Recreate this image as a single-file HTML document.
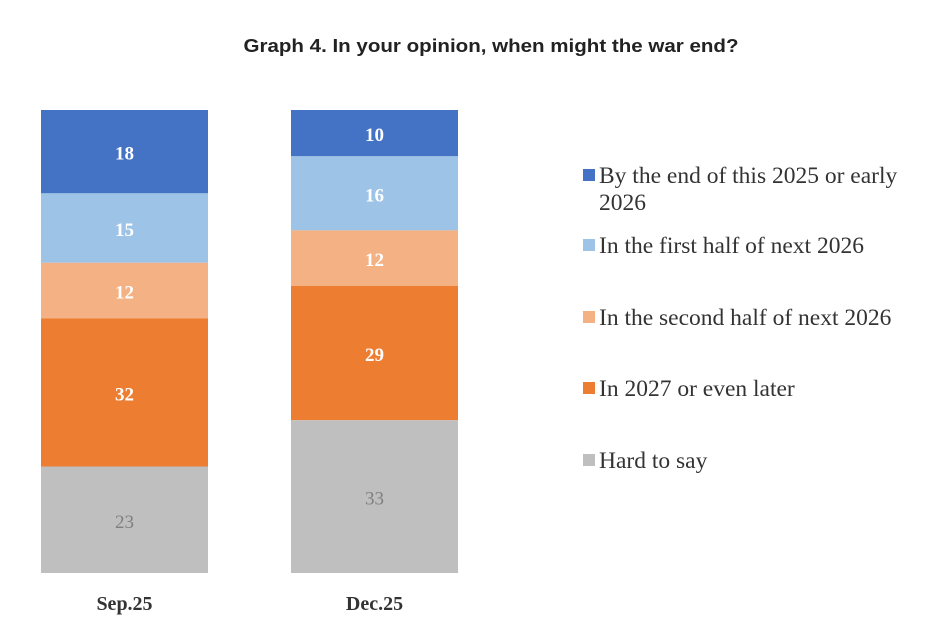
<!DOCTYPE html>
<html><head><meta charset="utf-8"><style>
body{margin:0;background:#fff;width:951px;height:638px;overflow:hidden}
svg text{font-family:"Liberation Serif",serif}
</style></head><body>
<svg id="chart" width="951" height="638">
<text x="491" y="52" text-anchor="middle" textLength="495" lengthAdjust="spacingAndGlyphs" style="font-family:'Liberation Sans',sans-serif;font-weight:bold;font-size:18px" fill="#222">Graph 4. In your opinion, when might the war end?</text>
<g id="bars"></g><g id="legend"></g>
</svg>
<script>
const categories=["Sep.25","Dec.25"];
const seriesNames=["By the end of this 2025 or early 2026","In the first half of next 2026","In the second half of next 2026","In 2027 or even later","Hard to say"];
const s1=[18,10];
const s2=[15,16];
const s3=[12,12];
const s4=[32,29];
const s5=[23,33];
const series=[s1,s2,s3,s4,s5];
const colors=["#4472C4","#9DC3E6","#F4B183","#ED7D31","#BFBFBF"];
const NS="http://www.w3.org/2000/svg";
const top0=110,bottom0=573,barW=167;
const xPos=i=>41+i*250;
const yScale=v=>bottom0-v*(bottom0-top0)/100;
const g=document.getElementById('bars');
categories.forEach((c,i)=>{
  let cum=series.reduce((a,s)=>a+s[i],0);
  series.forEach((s,k)=>{
    const y0=yScale(cum), y1=yScale(cum-s[i]);
    cum-=s[i];
    const r=document.createElementNS(NS,'rect');
    r.setAttribute('x',xPos(i));r.setAttribute('y',y0);r.setAttribute('width',barW);r.setAttribute('height',y1-y0);r.setAttribute('fill',colors[k]);
    
    
    g.appendChild(r);
    const t=document.createElementNS(NS,'text');
    t.setAttribute('x',xPos(i)+barW/2);t.setAttribute('y',(y0+y1)/2+8);t.setAttribute('text-anchor','middle');
    t.setAttribute('font-size','19');
    if(k<4){t.setAttribute('fill','#fff');t.setAttribute('font-weight','bold');}else{t.setAttribute('fill','#7f7f7f');}
    t.textContent=s[i];
    
    
    g.appendChild(t);
  });
  const xl=document.createElementNS(NS,'text');
  xl.setAttribute('x',xPos(i)+barW/2);xl.setAttribute('y',610);xl.setAttribute('text-anchor','middle');xl.setAttribute('font-size','20');xl.setAttribute('font-weight','bold');xl.setAttribute('fill','#333');
  xl.textContent=c;
  
  
  g.appendChild(xl);
});
const lg=document.getElementById('legend');
const ly=[183,253,325,396,468];
seriesNames.forEach((n,k)=>{
  const r=document.createElementNS(NS,'rect');
  r.setAttribute('x',583);r.setAttribute('y',ly[k]-14);r.setAttribute('width',12);r.setAttribute('height',12);r.setAttribute('fill',colors[k]);
  
  
  lg.appendChild(r);
  const t=document.createElementNS(NS,'text');
  t.setAttribute('x',599);t.setAttribute('y',ly[k]);t.setAttribute('font-size','23.5');t.setAttribute('fill','#333');
  
  
  if(k===0){
    t.innerHTML='<tspan x="599">By the end of this 2025 or early</tspan><tspan x="599" dy="27">2026</tspan>';
  } else t.textContent=n;
  lg.appendChild(t);
});
</script>
</body></html>
